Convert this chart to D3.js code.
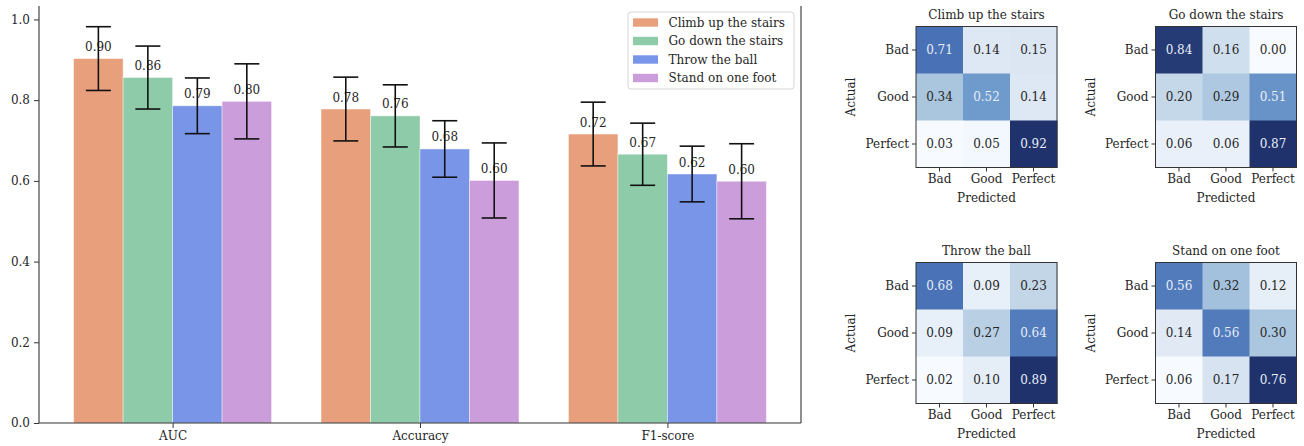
<!DOCTYPE html>
<html>
<head>
<meta charset="utf-8">
<script src="https://cdn.jsdelivr.net/npm/d3@7"></script>
<style>
  body { margin: 0; background: #fff; }
  svg text { font-family: "DejaVu Serif", serif; fill: #262626; }
</style>
</head>
<body>
<div id="chart"></div>
<script>
var width = 1304,
    height = 446;

// bar chart data
var metrics = ["AUC", "Accuracy", "F1-score"];
var tasks = ["Climb up the stairs", "Go down the stairs", "Throw the ball", "Stand on one foot"];
var colors = ["#e8a07c", "#8ecba9", "#7895e8", "#cb9dda"];
var climbVals = [0.903, 0.778, 0.716];
var downVals = [0.856, 0.761, 0.666];
var throwVals = [0.786, 0.679, 0.617];
var standVals = [0.797, 0.601, 0.599];
var climbErr = [0.079, 0.079, 0.079];
var downErr = [0.078, 0.077, 0.077];
var throwErr = [0.069, 0.070, 0.069];
var standErr = [0.093, 0.093, 0.093];
var yTicks = [0, 0.2, 0.4, 0.6, 0.8, 1.0];

// confusion matrices
var classes = ["Bad", "Good", "Perfect"];
var cmClimb = [[0.71, 0.14, 0.15], [0.34, 0.52, 0.14], [0.03, 0.05, 0.92]];
var cmDown = [[0.84, 0.16, 0.00], [0.20, 0.29, 0.51], [0.06, 0.06, 0.87]];
var cmThrow = [[0.68, 0.09, 0.23], [0.09, 0.27, 0.64], [0.02, 0.10, 0.89]];
var cmStand = [[0.56, 0.32, 0.12], [0.14, 0.56, 0.30], [0.06, 0.17, 0.76]];

var values = [climbVals, downVals, throwVals, standVals];
var errors = [climbErr, downErr, throwErr, standErr];
var matrices = [cmClimb, cmDown, cmThrow, cmStand];

var svg = d3.select("#chart").append("svg")
    .attr("width", width)
    .attr("height", height);

// ---------- bar chart ----------
var pLeft = 39, pRight = 801, pTop = 6, pBottom = 423;

var x = d3.scaleLinear().domain([-0.54, 2.54]).range([pLeft, pRight]);
var y = d3.scaleLinear().domain([0, 1.0333]).range([pBottom, pTop]);
var bw = 0.2;

var g = svg.append("g");

tasks.forEach(function(t, i) {
  var off = (i - 1.5) * bw;
  metrics.forEach(function(m, j) {
    var v = values[i][j];
    g.append("rect")
      .attr("x", x(j + off - bw / 2))
      .attr("y", y(v))
      .attr("width", x(j + off + bw / 2) - x(j + off - bw / 2))
      .attr("height", y(0) - y(v))
      .attr("fill", colors[i])
      .attr("stroke", "rgba(255,255,255,0.5)")
      .attr("stroke-width", 0.8);
  });
});

// value labels and error bars
tasks.forEach(function(t, i) {
  var off = (i - 1.5) * bw;
  metrics.forEach(function(m, j) {
    var v = values[i][j];
    g.append("text")
      .attr("x", x(j + off))
      .attr("y", y(v) - 7.5)
      .attr("text-anchor", "middle")
      .style("font-size", "12px")
      .text(v.toFixed(2));
  });
});
tasks.forEach(function(t, i) {
  var off = (i - 1.5) * bw;
  metrics.forEach(function(m, j) {
    var v = values[i][j], e = errors[i][j];
    var cx = x(j + off);
    g.append("line")
      .attr("x1", cx).attr("x2", cx)
      .attr("y1", y(v - e)).attr("y2", y(v + e))
      .attr("stroke", "#111").attr("stroke-width", 1.6);
    [v - e, v + e].forEach(function(c) {
      g.append("line")
        .attr("x1", cx - 12.5).attr("x2", cx + 12.5)
        .attr("y1", y(c)).attr("y2", y(c))
        .attr("stroke", "#111").attr("stroke-width", 1.6);
    });
  });
});

// axes
var yAxis = d3.axisLeft(y).tickValues(yTicks).tickFormat(d3.format(".1f"))
    .tickSize(5).tickSizeOuter(0).tickPadding(4);
var ya = g.append("g").attr("transform", "translate(" + pLeft + ",0)").call(yAxis);
ya.select(".domain").remove();
ya.selectAll("text").style("font-size", "12px").attr("fill", "#262626");
ya.selectAll("line").attr("stroke", "#333");

var xAxis = d3.axisBottom(x).tickValues([0, 1, 2]).tickFormat(function(d) { return metrics[d]; })
    .tickSize(5).tickSizeOuter(0).tickPadding(3);
var xa = g.append("g").attr("transform", "translate(0," + pBottom + ")").call(xAxis);
xa.select(".domain").remove();
xa.selectAll("text").style("font-size", "12px").attr("fill", "#262626");
xa.selectAll("line").attr("stroke", "#333");

// spines
g.append("line").attr("x1", pLeft).attr("x2", pLeft).attr("y1", pTop).attr("y2", pBottom)
  .attr("stroke", "#333").attr("stroke-width", 1.1);
g.append("line").attr("x1", pRight).attr("x2", pRight).attr("y1", pTop).attr("y2", pBottom)
  .attr("stroke", "#333").attr("stroke-width", 1.1);
g.append("line").attr("x1", pLeft).attr("x2", pRight).attr("y1", pBottom).attr("y2", pBottom)
  .attr("stroke", "#333").attr("stroke-width", 1.1);

// legend
var lg = g.append("g").attr("transform", "translate(628,12)");
lg.append("rect").attr("width", 166).attr("height", 77).attr("rx", 3)
  .attr("fill", "rgba(255,255,255,0.8)").attr("stroke", "#d6d6d6");
tasks.forEach(function(t, i) {
  var yy = 10.5 + i * 18.5;
  lg.append("rect").attr("x", 5).attr("y", yy - 4.2).attr("width", 25).attr("height", 8.4)
    .attr("fill", colors[i]);
  lg.append("text").attr("x", 40.5).attr("y", yy + 4.3)
    .style("font-size", "12px").text(t);
});

// ---------- confusion matrices ----------
var color = d3.scaleLinear()
    .domain([0, 0.13, 0.35, 0.55, 0.76, 1])
    .range(["#f7fbff", "#dde7f3", "#a9c6de", "#6e9acc", "#4a73b7", "#1f326b"])
    .interpolate(d3.interpolateLab);

var hmLeft = [916, 1155.5], hmTop = [26.5, 262.5], size = 141;

matrices.forEach(function(cm, k) {
  var ox = hmLeft[k % 2], oy = hmTop[Math.floor(k / 2)];
  var hg = svg.append("g").attr("transform", "translate(" + ox + "," + oy + ")");
  var band = d3.scaleBand().domain(classes).range([0, size]);
  var flat = d3.merge(cm);
  var norm = d3.scaleLinear().domain(d3.extent(flat)).range([0, 1]);

  cm.forEach(function(row, r) {
    row.forEach(function(v, c) {
      var t = norm(v);
      hg.append("rect")
        .attr("x", band(classes[c])).attr("y", band(classes[r]))
        .attr("width", band.bandwidth() + 0.5).attr("height", band.bandwidth() + 0.5)
        .attr("fill", color(t));
      hg.append("text")
        .attr("x", band(classes[c]) + band.bandwidth() / 2)
        .attr("y", band(classes[r]) + band.bandwidth() / 2)
        .attr("dy", "0.35em")
        .attr("text-anchor", "middle")
        .style("font-size", "12px")
        .style("fill", t > 0.45 ? "#e8eef8" : "#262626")
        .text(v.toFixed(2));
    });
  });

  hg.append("rect").attr("width", size).attr("height", size)
    .attr("fill", "none").attr("stroke", "#333").attr("stroke-width", 1);

  var ay = hg.append("g").call(d3.axisLeft(band).tickSize(4).tickPadding(3).tickSizeOuter(0));
  ay.select(".domain").remove();
  ay.selectAll("text").style("font-size", "12px").attr("fill", "#262626");
  ay.selectAll("line").attr("stroke", "#333");

  var ax = hg.append("g").attr("transform", "translate(0," + size + ")")
    .call(d3.axisBottom(band).tickSize(4).tickPadding(3).tickSizeOuter(0));
  ax.select(".domain").remove();
  ax.selectAll("text").style("font-size", "12px").attr("fill", "#262626");
  ax.selectAll("line").attr("stroke", "#333");

  hg.append("text").attr("x", size / 2).attr("y", -7.5)
    .attr("text-anchor", "middle").style("font-size", "12px").text(tasks[k]);
  hg.append("text").attr("x", size / 2).attr("y", size + 34.5)
    .attr("text-anchor", "middle").style("font-size", "12px").text("Predicted");
  hg.append("text")
    .attr("transform", "translate(-61," + (size / 2) + ") rotate(-90)")
    .attr("text-anchor", "middle").style("font-size", "12px").text("Actual");
});
</script>
</body>
</html>
